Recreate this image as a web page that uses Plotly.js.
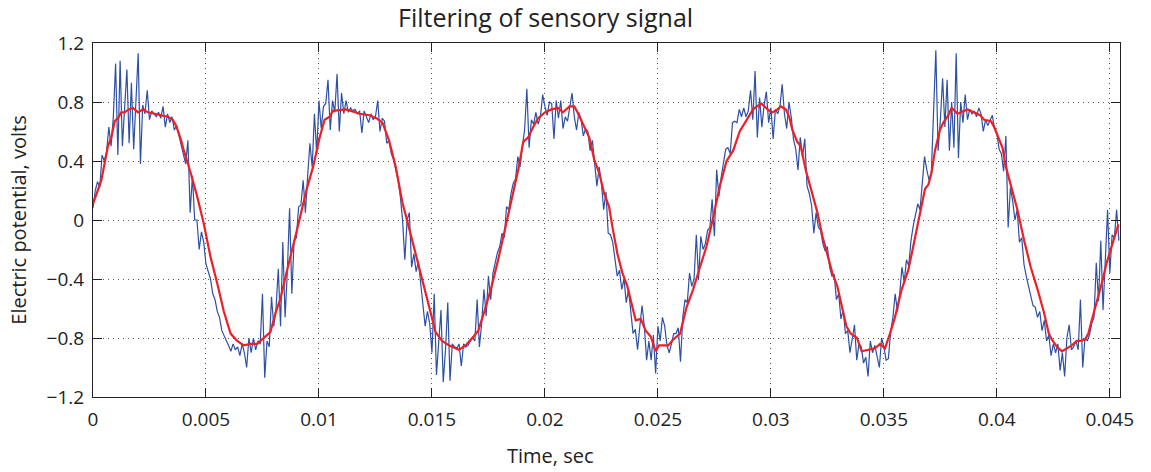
<!DOCTYPE html>
<html>
<head>
<meta charset="utf-8">
<script src="https://cdn.plot.ly/plotly-3.0.1.min.js"></script>
<style>html,body{margin:0;padding:0;background:#fff;}#chart{width:1151px;height:472px;}</style>
</head>
<body>
<div id="chart"></div>
<script>
// Sampling interval of the raw (noisy) sensory signal, seconds
const SAMPLE_DT = 0.0001;

// Raw noisy signal, volts (one value per sample)
const rawVolts = [
 0.08,0.2,0.26,0.22,0.44,0.4,0.46,0.63,0.5,0.7,
 1.06,0.44,1.08,0.5,0.76,1.02,0.52,0.93,0.48,0.8,
 1.13,0.38,0.78,0.72,0.88,0.68,0.74,0.72,0.7,0.73,
 0.69,0.77,0.63,0.72,0.66,0.7,0.61,0.64,0.58,0.5,
 0.45,0.38,0.54,0.05,0.3,0.0,0.0,-0.2,-0.08,-0.15,
 -0.3,-0.36,-0.4,-0.5,-0.54,-0.62,-0.66,-0.75,-0.78,-0.82,
 -0.85,-0.89,-0.84,-0.88,-0.86,-0.92,-0.84,-0.9,-1.0,-0.8,
 -0.9,-0.8,-0.88,-0.82,-0.84,-0.5,-1.07,-0.82,-0.86,-0.52,
 -0.72,-0.6,-0.33,-0.72,-0.15,-0.66,-0.35,0.08,-0.5,-0.14,
 -0.12,0.09,0.1,0.27,0.05,0.3,0.52,0.36,0.72,0.45,
 0.81,0.62,0.77,0.79,0.95,0.61,0.81,0.73,0.99,0.6,
 0.86,0.72,0.81,0.73,0.76,0.74,0.75,0.72,0.74,0.59,
 0.74,0.7,0.66,0.72,0.68,0.7,0.81,0.6,0.69,0.67,
 0.52,0.54,0.45,0.41,0.34,0.27,0.16,0.0,-0.27,0.0,
 0.05,-0.32,-0.23,-0.35,-0.28,-0.42,-0.56,-0.72,-0.62,-0.7,
 -0.9,-0.5,-1.05,-0.82,-0.61,-1.1,-0.88,-0.56,-1.09,-0.84,
 -0.86,-0.87,-0.84,-0.99,-0.84,-0.86,-0.85,-0.82,-0.8,-0.82,
 -0.54,-0.86,-0.7,-0.47,-0.65,-0.38,-0.54,-0.36,-0.28,-0.22,
 -0.18,-0.09,-0.12,0.09,0.07,0.18,0.25,0.28,0.43,0.36,
 0.5,0.61,0.89,0.49,0.68,0.65,0.73,0.65,0.7,0.85,
 0.77,0.71,0.8,0.79,0.55,0.81,0.69,0.81,0.62,0.7,
 0.67,0.78,0.86,0.7,0.61,0.73,0.68,0.57,0.62,0.6,
 0.47,0.54,0.4,0.23,0.36,0.25,0.07,0.19,-0.09,-0.1,
 -0.15,-0.25,-0.38,-0.34,-0.47,-0.4,-0.56,-0.47,-0.62,-0.77,
 -0.74,-0.88,-0.72,-0.58,-0.72,-0.95,-0.82,-0.95,-0.78,-1.04,
 -0.72,-0.82,-0.66,-0.72,-0.85,-0.9,-0.84,-0.77,-0.77,-0.73,
 -0.96,-0.66,-0.54,-0.56,-0.36,-0.45,-0.4,-0.1,-0.4,-0.11,
 -0.2,-0.16,-0.07,-0.05,0.14,-0.11,0.34,0.16,0.29,0.38,
 0.48,0.49,0.45,0.66,0.67,0.66,0.75,0.7,0.76,0.7,
 0.74,0.88,0.68,1.01,0.56,0.83,0.63,0.78,0.87,0.66,
 0.76,0.55,0.75,0.72,0.77,0.92,0.72,0.62,0.8,0.7,
 0.55,0.48,0.34,0.56,0.43,0.55,0.23,0.18,0.1,-0.09,
 0.05,-0.05,-0.07,-0.16,-0.21,-0.18,-0.32,-0.38,-0.37,-0.54,
 -0.5,-0.67,-0.61,-0.77,-0.75,-0.9,-0.8,-0.71,-0.95,-0.84,
 -0.86,-0.97,-0.93,-1.06,-0.82,-0.9,-0.85,-0.93,-1.0,-0.8,
 -0.86,-0.95,-0.94,-0.76,-0.66,-0.5,-0.62,-0.5,-0.32,-0.42,
 -0.27,-0.31,-0.14,-0.04,0.05,0.11,0.07,0.23,0.43,0.34,
 0.27,0.32,0.7,1.15,0.47,0.68,0.96,0.63,0.95,0.47,
 0.8,0.49,1.13,0.42,0.8,0.66,0.85,0.68,0.75,0.72,
 0.74,0.7,0.76,0.72,0.6,0.68,0.64,0.67,0.71,0.62,
 0.59,0.48,0.45,0.33,0.57,-0.05,0.22,0.13,0.0,0.07,
 -0.15,-0.12,-0.3,-0.38,-0.45,-0.52,-0.58,-0.59,-0.66,-0.62,
 -0.75,-0.68,-0.82,-0.78,-0.92,-0.84,-0.9,-0.84,-1.02,-0.9,
 -1.06,-0.8,-0.71,-0.88,-0.86,-0.82,-0.88,-0.54,-1.0,-0.8,
 -0.82,-0.78,-0.7,-0.66,-0.29,-0.55,-0.14,-0.61,-0.25,0.07,
 -0.36,-0.1,-0.12,0.07,-0.14
];

// Filtered signal: time (s) and value (V)
const filteredTime = [
 0,0.00037,0.00066,0.00081,0.00096,0.0011,0.00125,0.0014,0.00158,0.00177,
 0.00199,0.00221,0.00243,0.00273,0.00302,0.00331,0.00353,0.00368,0.0039,0.00402,
 0.00432,0.00461,0.00491,0.0052,0.0055,0.00579,0.00609,0.00638,0.00667,0.00697,
 0.00726,0.00756,0.00785,0.00808,0.0083,0.00856,0.00886,0.00915,0.00944,0.00974,
 0.01003,0.01025,0.01047,0.01062,0.01121,0.0118,0.01224,0.01254,0.01281,0.0131,
 0.0134,0.01369,0.01398,0.01428,0.01457,0.01487,0.01516,0.01545,0.01575,0.01619,
 0.01649,0.01684,0.01705,0.01734,0.01764,0.01793,0.01823,0.01852,0.01882,0.01904,
 0.01926,0.01948,0.0197,0.02,0.02029,0.02058,0.0208,0.02109,0.0213,0.02144,
 0.02166,0.02196,0.02218,0.0224,0.02262,0.02284,0.02299,0.02321,0.02343,0.02365,
 0.02387,0.02402,0.02424,0.02446,0.02468,0.0249,0.02505,0.02533,0.02546,0.02568,
 0.02598,0.02627,0.02656,0.02686,0.02715,0.02745,0.02774,0.02804,0.02833,0.02862,
 0.02892,0.02921,0.02957,0.02978,0.02993,0.03007,0.03029,0.03044,0.03066,0.03081,
 0.03095,0.03117,0.03132,0.03154,0.03184,0.03206,0.03228,0.0325,0.03272,0.03294,
 0.03316,0.03334,0.03353,0.03381,0.03402,0.03431,0.03461,0.03483,0.03505,0.03527,
 0.03549,0.03579,0.03608,0.0363,0.03652,0.03667,0.03682,0.03697,0.03711,0.03726,
 0.03748,0.03763,0.03785,0.038,0.03826,0.0387,0.03896,0.03926,0.03944,0.03974,
 0.03988,0.0401,0.04025,0.0404,0.04062,0.04091,0.04121,0.0415,0.0418,0.04209,
 0.0423,0.04243,0.04266,0.04288,0.0431,0.04332,0.04354,0.04368,0.0439,0.04405,
 0.0442,0.04442,0.04464,0.04486,0.04508,0.04516,0.04531,0.04538
];
const filteredVolts = [
 0.11,0.27,0.5,0.56,0.67,0.69,0.73,0.73,0.75,0.76,
 0.73,0.75,0.73,0.72,0.71,0.7,0.68,0.64,0.54,0.47,
 0.32,0.16,-0.03,-0.25,-0.43,-0.62,-0.77,-0.82,-0.85,-0.84,
 -0.84,-0.8,-0.76,-0.63,-0.53,-0.36,-0.18,0.01,0.2,0.36,
 0.56,0.68,0.7,0.74,0.75,0.72,0.71,0.69,0.66,0.54,
 0.36,0.12,-0.05,-0.23,-0.41,-0.59,-0.76,-0.82,-0.85,-0.88,
 -0.85,-0.79,-0.75,-0.61,-0.45,-0.27,-0.07,0.14,0.34,0.53,
 0.56,0.63,0.69,0.73,0.75,0.76,0.73,0.77,0.77,0.73,
 0.66,0.56,0.41,0.32,0.18,0.09,-0.05,-0.23,-0.36,-0.45,
 -0.59,-0.68,-0.67,-0.75,-0.79,-0.89,-0.85,-0.85,-0.85,-0.81,
 -0.77,-0.59,-0.47,-0.32,-0.18,0.02,0.23,0.4,0.47,0.6,
 0.68,0.75,0.79,0.76,0.74,0.73,0.75,0.77,0.75,0.7,
 0.61,0.53,0.5,0.34,0.18,0.05,-0.11,-0.23,-0.36,-0.45,
 -0.59,-0.72,-0.77,-0.8,-0.89,-0.88,-0.87,-0.84,-0.87,-0.77,
 -0.66,-0.47,-0.34,-0.18,-0.02,0.11,0.21,0.24,0.32,0.47,
 0.61,0.66,0.71,0.76,0.72,0.75,0.73,0.71,0.68,0.67,
 0.63,0.54,0.49,0.36,0.23,0.07,-0.14,-0.32,-0.47,-0.63,
 -0.77,-0.81,-0.86,-0.89,-0.87,-0.85,-0.82,-0.82,-0.81,-0.77,
 -0.68,-0.56,-0.43,-0.29,-0.18,-0.14,-0.06,-0.03
];

// Axis ticks
const xTickVals = [0,0.005,0.01,0.015,0.02,0.025,0.03,0.035,0.04,0.045];
const yTickVals = [-1.2,-0.8,-0.4,0,0.4,0.8,1.2];

const rawTime = rawVolts.map((_, i) => +(i * SAMPLE_DT).toFixed(5));

const FONT = '"Open Sans", "Noto Sans", sans-serif';

const traces = [
  {x: rawTime, y: rawVolts, type: 'scatter', mode: 'lines', name: 'raw',
   line: {color: '#2d50a5', width: 1.2}, hoverinfo: 'skip'},
  {x: filteredTime, y: filteredVolts, type: 'scatter', mode: 'lines', name: 'filtered',
   line: {color: '#ee1f26', width: 2.2}, hoverinfo: 'skip'}
];

const axisCommon = {
  showline: true, mirror: 'allticks', linecolor: '#222', linewidth: 1,
  ticks: 'inside', ticklen: 9, tickcolor: '#222', tickwidth: 1,
  showgrid: true, gridcolor: '#555', gridwidth: 1, griddash: '1px,4px',
  zeroline: false, tickfont: {family: FONT, size: 19, color: '#222'}
};

const layout = {
  width: 1151, height: 472,
  margin: {l: 93, r: 31, t: 43, b: 75},
  paper_bgcolor: '#fff', plot_bgcolor: '#fff',
  showlegend: false,
  font: {family: FONT, color: '#222'},
  title: {text: 'Filtering of sensory signal', font: {family: FONT, size: 25, color: '#222'},
          x: 0.474, xref: 'container', xanchor: 'center', y: 0.962, yref: 'container', yanchor: 'middle'},
  xaxis: Object.assign({}, axisCommon, {
    range: [0, 0.04545], tickvals: xTickVals, ticklabelstandoff: 5
  }),
  yaxis: Object.assign({}, axisCommon, {
    range: [-1.2, 1.2], tickvals: yTickVals, ticklabelstandoff: 4,
    title: {text: 'Electric potential, volts', font: {family: FONT, size: 20, color: '#222'}, standoff: 14}
  }),
  annotations: [
    {text: 'Time, sec', xref: 'paper', yref: 'paper', x: 0.445, y: -0.164,
     xanchor: 'center', yanchor: 'middle', showarrow: false,
     font: {family: FONT, size: 20, color: '#222'}}
  ]
};

Plotly.newPlot('chart', traces, layout, {displayModeBar: false, staticPlot: true});
</script>
</body>
</html>
